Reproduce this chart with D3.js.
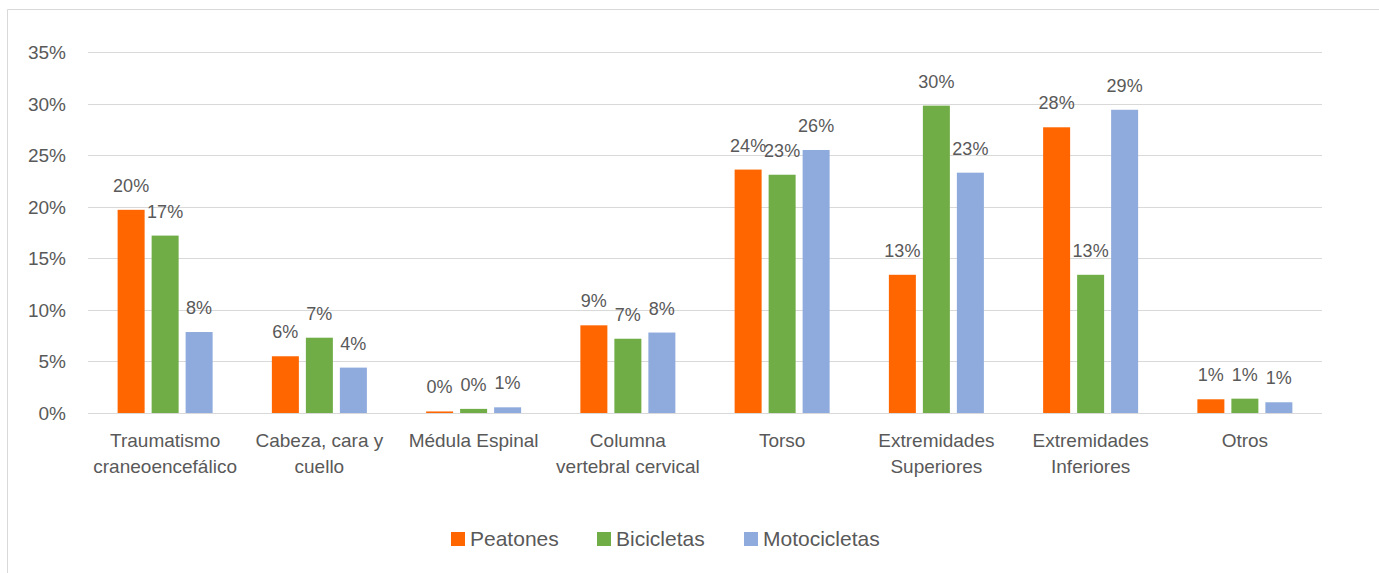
<!DOCTYPE html>
<html lang="es">
<head>
  <meta charset="UTF-8">
  <title>Lesiones por tipo de usuario</title>
  <style>
    body { margin: 0; background: #fff; }
    svg { display: block; font-family: "Liberation Sans", Arial, sans-serif; }
    .grid line { stroke: #d9d9d9; stroke-width: 1; }
    text { fill: #595959; }
  </style>
</head>
<body>
  <svg width="1379" height="573"></svg>
  <script src="https://cdn.jsdelivr.net/npm/d3@7"></script>
  <script>
// Data
const categories = [
  ["Traumatismo", "craneoencefálico"],
  ["Cabeza, cara y", "cuello"],
  ["Médula Espinal"],
  ["Columna", "vertebral cervical"],
  ["Torso"],
  ["Extremidades", "Superiores"],
  ["Extremidades", "Inferiores"],
  ["Otros"]
];
const series = ["Peatones", "Bicicletas", "Motocicletas"];
const colors = ["#ff6600", "#70ad47", "#8faadc"];
const peatones    = [0.197, 0.055, 0.0015, 0.085, 0.236, 0.134, 0.277, 0.0133];
const bicicletas  = [0.172, 0.073, 0.004, 0.072, 0.231, 0.298, 0.134, 0.0139];
const motocicletas = [0.0785, 0.044, 0.0055, 0.078, 0.255, 0.233, 0.294, 0.0104];
const yTicks = [0, 0.05, 0.10, 0.15, 0.20, 0.25, 0.30, 0.35];

const values = [peatones, bicicletas, motocicletas];

const svg = d3.select("svg");

// frame (only top and left edges are visible)
svg.append("line").attr("x1", 7.5).attr("x2", 1379).attr("y1", 9.5).attr("y2", 9.5)
  .attr("stroke", "#d9d9d9");
svg.append("line").attr("x1", 7.5).attr("x2", 7.5).attr("y1", 9.5).attr("y2", 573)
  .attr("stroke", "#d9d9d9");

const plot = { left: 88, right: 1322, top: 52, bottom: 413 };

const y = d3.scaleLinear().domain([0, 0.35]).range([plot.bottom, plot.top]);

const x = d3.scaleBand()
  .domain(d3.range(categories.length))
  .range([plot.left, plot.right])
  .padding(0);

const groupW = 95;
const xs = d3.scaleBand()
  .domain(d3.range(series.length))
  .range([0, groupW])
  .paddingInner(0.206);

// gridlines
svg.append("g").attr("class", "grid")
  .selectAll("line")
  .data(yTicks)
  .join("line")
  .attr("x1", plot.left).attr("x2", plot.right)
  .attr("y1", d => Math.round(y(d)) + 0.5)
  .attr("y2", d => Math.round(y(d)) + 0.5);

// y tick labels
svg.append("g")
  .selectAll("text")
  .data(yTicks)
  .join("text")
  .attr("x", 66)
  .attr("y", d => y(d) + 7)
  .attr("text-anchor", "end")
  .style("font-size", "19px")
  .text(d3.format(".0%"));

// bars
const rows = categories.map((c, i) => series.map((s, j) => ({ i, j, v: values[j][i] })));
const groups = svg.append("g")
  .selectAll("g")
  .data(rows)
  .join("g")
  .attr("transform", (d, i) => `translate(${x(i) + (x.bandwidth() - groupW) / 2},0)`);

groups.selectAll("rect")
  .data(d => d)
  .join("rect")
  .attr("x", d => xs(d.j))
  .attr("width", xs.bandwidth())
  .attr("y", d => y(d.v))
  .attr("height", d => y(0) - y(d.v))
  .attr("fill", d => colors[d.j]);

// data labels
groups.selectAll("text")
  .data(d => d)
  .join("text")
  .attr("x", d => xs(d.j) + xs.bandwidth() / 2)
  .attr("y", d => y(d.v) - 18)
  .attr("text-anchor", "middle")
  .style("font-size", "18px")
  .text(d => d3.format(".0%")(d.v));

// category labels
const cat = svg.append("g")
  .selectAll("text")
  .data(categories)
  .join("text")
  .attr("x", (d, i) => x(i) + x.bandwidth() / 2)
  .attr("y", 447)
  .attr("text-anchor", "middle")
  .style("font-size", "19px");
cat.selectAll("tspan")
  .data(d => d)
  .join("tspan")
  .attr("x", function () { return this.parentNode.getAttribute("x"); })
  .attr("dy", (d, k) => k === 0 ? 0 : 26)
  .text(d => d);

// legend
const legendX = [451, 597, 744];
const legend = svg.append("g")
  .selectAll("g")
  .data(series)
  .join("g")
  .attr("transform", (d, j) => `translate(${legendX[j]},532)`);
legend.append("rect")
  .attr("width", 14).attr("height", 14)
  .attr("fill", (d, j) => colors[j]);
legend.append("text")
  .attr("x", 19).attr("y", 14)
  .style("font-size", "21px")
  .text(d => d);
  </script>
</body>
</html>
